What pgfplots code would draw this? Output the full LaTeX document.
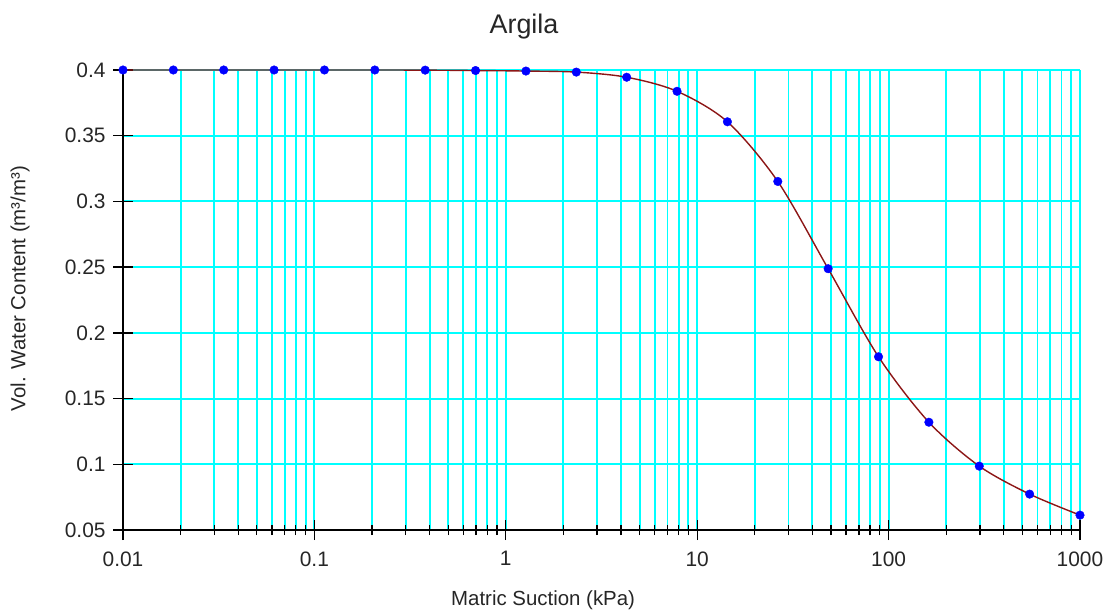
\documentclass[border=0pt]{standalone}
\usepackage{fontspec}
\setmainfont{Liberation Sans}
\usepackage{pgfplots}
\usepackage{pgfplotstable}
\pgfplotsset{compat=1.18}
\definecolor{gridcyan}{RGB}{0,255,255}
\definecolor{curvered}{RGB}{140,22,22}
\definecolor{dotblue}{RGB}{0,0,255}
\pgfplotstableread{
x y
0.01 0.4000
0.01833 0.4000
0.03360 0.4000
0.06158 0.4000
0.11288 0.4000
0.20691 0.4000
0.37927 0.3999
0.69519 0.3996
1.27427 0.3992
2.33572 0.3984
4.28133 0.3945
7.84760 0.3838
14.3845 0.3606
26.3665 0.3152
48.3293 0.2488
88.5867 0.1818
162.378 0.1320
297.635 0.0986
545.559 0.0773
1000 0.0613
}\swcc
\begin{document}
\begin{tikzpicture}
\begin{axis}[
  scale only axis, width=957bp, height=460bp,
  xmode=log, xmin=0.01, xmax=1000, ymin=0.05, ymax=0.4,
  axis x line=bottom, axis y line=left,
  axis line style={-, black, line width=1.3bp},
  xtick={0.01,0.1,1,10,100,1000},
  xticklabels={0.01,0.1,1,10,100,1000},
  minor xtick={0.02,0.03,0.04,0.05,0.06,0.07,0.08,0.09,
               0.2,0.3,0.4,0.5,0.6,0.7,0.8,0.9,
               2,3,4,5,6,7,8,9,
               20,30,40,50,60,70,80,90,
               200,300,400,500,600,700,800,900},
  ytick={0.05,0.1,0.15,0.2,0.25,0.3,0.35,0.4},
  yticklabels={0.05,0.1,0.15,0.2,0.25,0.3,0.35,0.4},
  minor ytick={},
  grid=both,
  grid style={draw=gridcyan, line width=1.9bp},
  major grid style={draw=gridcyan, line width=1.9bp},
  minor grid style={draw=gridcyan, line width=1.9bp},
  tick style={draw=black, line width=1.3bp},
  tick align=center,
  major tick length=20bp, minor tick length=10bp,
  ticklabel style={font=\fontsize{21}{24}\selectfont, text=black!85},
  yticklabel style={xshift=-4bp},
  xticklabel style={yshift=-8bp},
  clip=false,
]
\addplot[curvered, line width=1.4bp, smooth, tension=0.5] table[x=x,y=y]{\swcc};
\addplot[only marks, mark=*, mark size=4.3bp, mark options={fill=dotblue, draw=dotblue}] table[x=x,y=y]{\swcc};
\node[anchor=base, font=\fontsize{27}{30}\selectfont, text=black!85] at ([yshift=36bp]rel axis cs:0.419,1) {Argila};
\node[anchor=base, font=\fontsize{20.5}{24}\selectfont, text=black!85] at ([yshift=-75bp]rel axis cs:0.439,0) {Matric Suction (kPa)};
\node[rotate=90, font=\fontsize{20.5}{24}\selectfont, text=black!85] at ([xshift=-103bp]rel axis cs:0,0.525) {Vol. Water Content (m³/m³)};
\end{axis}
\pgfresetboundingbox
\path (current axis.south west) ++(-123bp,-80bp) rectangle ++(1110bp,610bp);
\end{tikzpicture}
\end{document}
